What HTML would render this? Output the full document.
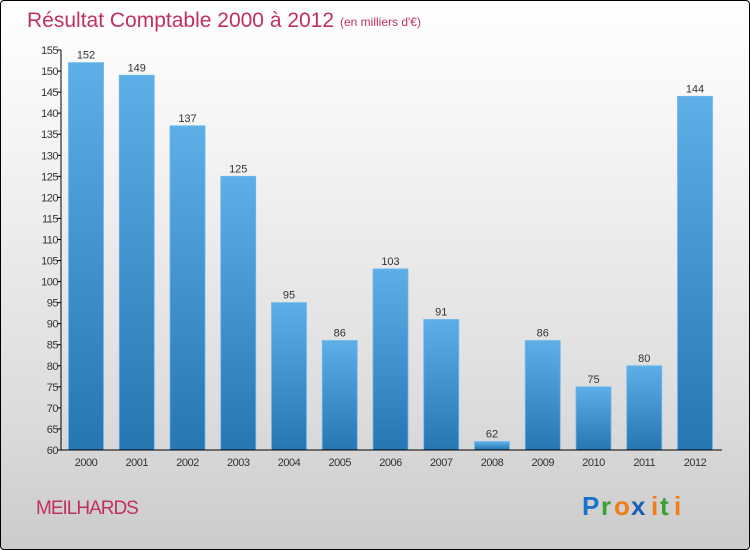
<!DOCTYPE html>
<html><head><meta charset="utf-8"><style>
html,body{margin:0;padding:0;}
body{width:750px;height:550px;overflow:hidden;font-family:"Liberation Sans",sans-serif;}
#wrap{position:absolute;left:0;top:0;width:748px;height:548px;border:1px solid #000;border-radius:4px;background:linear-gradient(#ffffff 0%,#f2f2f2 30%,#dcdcdc 75%,#cbcbcb 100%);}
</style></head><body>
<div id="wrap">
<svg width="750" height="550" style="position:absolute;left:-1px;top:-1px">
<defs>
<linearGradient id="bg" x1="0" y1="0" x2="0" y2="1">
<stop offset="0" stop-color="#5eaee8"/><stop offset="1" stop-color="#2676b2"/>
</linearGradient>
</defs>
<text x="27" y="27" font-size="21" fill="#c0305e">Résultat Comptable 2000 à 2012</text>
<text x="340" y="26" font-size="12" fill="#c0305e">(en milliers d'€)</text>
<g id="plot"></g>
<text x="36" y="514" font-size="19" fill="#c0305e" letter-spacing="-1">MEILHARDS</text>
<g font-size="26" font-weight="bold" font-family="Liberation Sans,sans-serif">
<text x="582" y="515" fill="#1a73c8">P</text><text x="601" y="515" fill="#3aa035">r</text><text x="614" y="515" fill="#f07d1a">o</text><text x="631" y="515" fill="#1a5fb4">x</text><text x="651" y="515" fill="#f07d1a">i</text><text x="660" y="515" fill="#3aa035">t</text><text x="674" y="515" fill="#f07d1a">i</text>
</g>
</svg>
</div>
<script>
const categories=["2000","2001","2002","2003","2004","2005","2006","2007","2008","2009","2010","2011","2012"];
const values=[152,149,137,125,95,86,103,91,62,86,75,80,144];
const yTicks=[60,65,70,75,80,85,90,95,100,105,110,115,120,125,130,135,140,145,150,155];
const NS="http://www.w3.org/2000/svg";
const g=document.getElementById('plot');
const yMin=60,yMax=155,y0=450,y1=50,xL=61,xR=722;
function y(v){return y0-(v-yMin)/(yMax-yMin)*(y0-y1);}
function xc(i){return 86+i*50.75;}
function mk(t,a){const e=document.createElementNS(NS,t);for(const k in a)e.setAttribute(k,a[k]);g.appendChild(e);return e;}
yTicks.forEach(v=>{
 const l=mk('line',{x1:xL-4,x2:xL,y1:y(v),y2:y(v),stroke:'#000'});
 
 
 const t=mk('text',{x:xL-3,y:y(v)+4,'text-anchor':'end','font-size':'11',fill:'#333','letter-spacing':'-0.5'});
 t.textContent=v;
 
 
});
categories.forEach((c,i)=>{
 const top=y(values[i]);
 const r=mk('rect',{x:xc(i)-17.5,y:top,width:35,height:y0-top,fill:'url(#bg)',stroke:'#6bb8ee','stroke-width':'0.8'});
 
 
 const t=mk('text',{x:xc(i),y:top-4,'text-anchor':'middle','font-size':'11',fill:'#333'});
 t.textContent=values[i];
 
 
 const xl=mk('text',{x:xc(i),y:466,'text-anchor':'middle','font-size':'11',fill:'#333','letter-spacing':'-0.5'});
 xl.textContent=c;
 
 
});
const ya=mk('line',{x1:xL,x2:xL,y1:y1,y2:y0,stroke:'#000'});


const xa=mk('line',{x1:xL,x2:xR,y1:y0,y2:y0,stroke:'#000'});


</script>
</body></html>
